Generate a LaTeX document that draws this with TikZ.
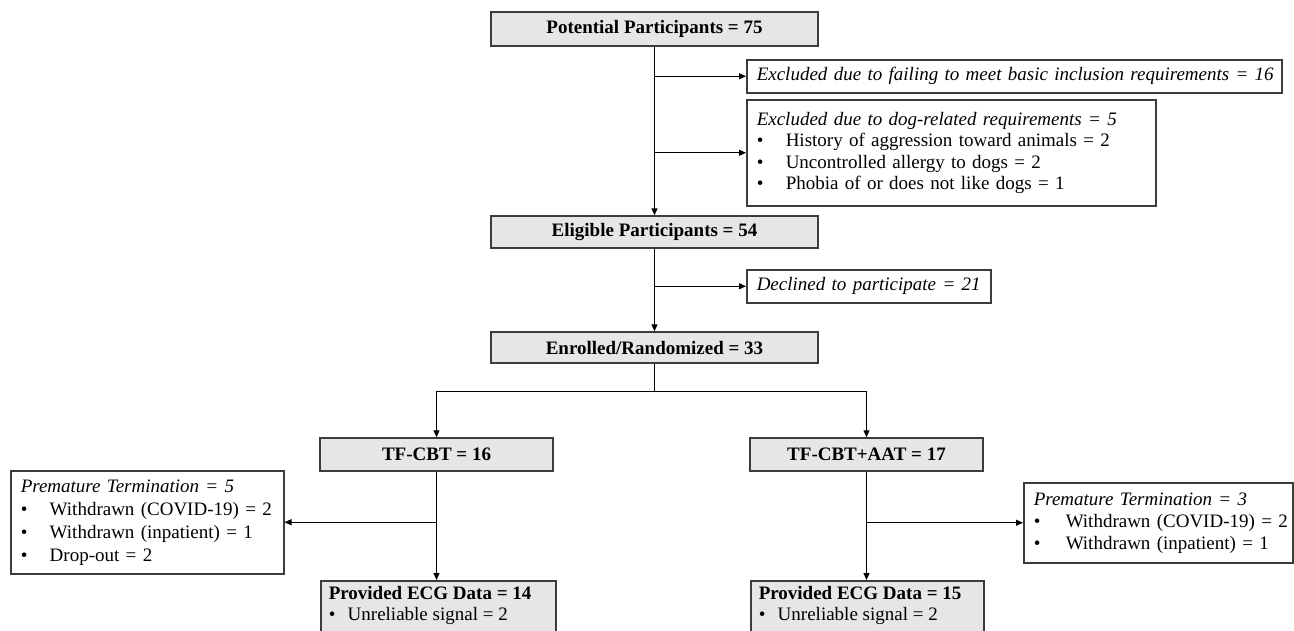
\documentclass[tikz,border=0pt]{standalone}
\usepackage{fontspec}
\setmainfont{Liberation Serif}
\usetikzlibrary{arrows.meta}
\definecolor{boxgray}{HTML}{E6E6E6}
\definecolor{edgecol}{HTML}{3C3C3C}
\newcommand{\bul}{\makebox[29pt][l]{\textbullet}}
\newcommand{\bulr}{\makebox[32pt][l]{\textbullet}}
\newcommand{\bulb}{\makebox[19pt][l]{\textbullet}}
\begin{document}
\begin{tikzpicture}[x=1pt,y=-1pt,
  every node/.style={font=\fontsize{19}{22}\selectfont},
  mainbox/.style={draw=edgecol,fill=boxgray,line width=1.5pt,inner sep=0pt,font=\fontsize{19}{22}\selectfont\bfseries},
  sidebox/.style={draw=edgecol,fill=white,line width=1.5pt,inner xsep=10pt,inner ysep=0pt,align=left,anchor=north west},
  arr/.style={line width=1.1pt,-{Triangle[length=7pt,width=6pt]}},
  conn/.style={line width=1.1pt}]
\useasboundingbox (0,0) rectangle (1294,630);

% main column
\node[mainbox,minimum width=327pt,minimum height=34pt] (pot) at (654.5,29) {Potential Participants = 75};
\node[mainbox,minimum width=327pt,minimum height=32pt] (eli) at (654.5,232) {Eligible Participants = 54};
\node[mainbox,minimum width=327pt,minimum height=31pt] (enr) at (654.5,347.5) {Enrolled/Randomized = 33};
\node[mainbox,minimum width=233pt,minimum height=33pt] (tf) at (436.5,454.5) {TF-CBT = 16};
\node[mainbox,minimum width=233pt,minimum height=33pt] (tfa) at (866.5,454.5) {TF-CBT+AAT = 17};

% side boxes
\node[sidebox,minimum width=535pt,minimum height=33pt,text width=515pt] (ex1) at (746,59)
  {\mbox{\textit{Excluded due to failing to meet basic inclusion requirements = 16}}};
\node[sidebox,minimum width=409pt,minimum height=106pt,text width=389pt,font=\fontsize{19}{21.5}\selectfont] (ex2) at (746,99)
  {\textit{Excluded due to dog-related requirements = 5}\\
   \bul History of aggression toward animals = 2\\
   \bul Uncontrolled allergy to dogs = 2\\
   \bul Phobia of or does not like dogs = 1};
\node[sidebox,minimum width=244pt,minimum height=33pt,text width=224pt] (dec) at (746,269)
  {\mbox{\textit{Declined to participate = 21}}};
\node[sidebox,minimum width=273pt,minimum height=103pt,text width=253pt,font=\fontsize{19}{23}\selectfont] (lpt) at (10,470)
  {\textit{Premature Termination = 5}\\
   \bul Withdrawn (COVID-19) = 2\\
   \bul Withdrawn (inpatient) = 1\\
   \bul Drop-out = 2};
\node[sidebox,minimum width=269pt,minimum height=80pt,text width=249pt] (rpt) at (1023,482)
  {\mbox{\textit{Premature Termination = 3}}\\
   \mbox{\bulr Withdrawn (COVID-19) = 2}\\
   \mbox{\bulr Withdrawn (inpatient) = 1}};

% provided ECG boxes (cut at the bottom)
\node[mainbox,anchor=north west,inner xsep=8pt,inner ysep=6pt,font=\fontsize{19}{21}\selectfont] (pe1) at (320,580)
  {\parbox[t][70pt][t]{219pt}{\textbf{Provided ECG Data = 14}\\ \bulb Unreliable signal = 2}};
\node[mainbox,anchor=north west,inner xsep=8pt,inner ysep=6pt,font=\fontsize{19}{21}\selectfont] (pe2) at (750,580)
  {\parbox[t][70pt][t]{217pt}{\textbf{Provided ECG Data = 15}\\ \bulb Unreliable signal = 2}};

% connectors
\draw[arr] (pot.south) -- (eli.north);
\draw[arr] (pot.south |- ex1.west) -- (ex1.west);
\draw[arr] (pot.south |- ex2.west) -- (ex2.west);
\draw[arr] (eli.south) -- (enr.north);
\draw[arr] (eli.south |- dec.west) -- (dec.west);
\coordinate (br) at (654.5,391.5);
\draw[conn] (enr.south) -- (br);
\draw[arr] (br) -| (tf.north);
\draw[arr] (br) -| (tfa.north);
\draw[arr] (tf.south) -- (tf.south |- pe1.north);
\draw[arr] (tf.south |- lpt.east) -- (lpt.east);
\draw[arr] (tfa.south) -- (tfa.south |- pe2.north);
\draw[arr] (tfa.south |- rpt.west) -- (rpt.west);
\end{tikzpicture}
\end{document}
